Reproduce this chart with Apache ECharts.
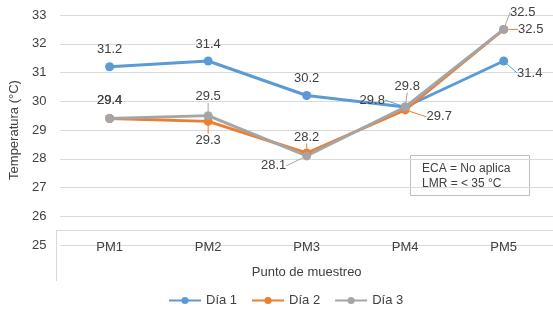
<!DOCTYPE html>
<html>
<head>
<meta charset="utf-8">
<script src="https://cdn.jsdelivr.net/npm/echarts@6/dist/echarts.min.js"></script>
<style>
  html, body { margin: 0; padding: 0; background: #fff; }
  #chart { width: 553px; height: 313px; }
</style>
</head>
<body>
<div id="chart"></div>
<script>
// datos
const puntos = ["PM1", "PM2", "PM3", "PM4", "PM5"];
const dia1 = [31.2, 31.4, 30.2, 29.8, 31.4];
const dia2 = [29.4, 29.3, 28.2, 29.7, 32.5];
const dia3 = [29.4, 29.5, 28.1, 29.8, 32.5];
const nombres = ["Día 1", "Día 2", "Día 3"];
const colores = ["#5b9bd5", "#ed7d31", "#a5a5a5"];

// desplazamiento de etiquetas (dx, dy) respecto al punto
const offsets = [
  [[0, -17], [0, -17], [0, -17], [-33, -7], [26, 12]],
  [[0, -18], [0, 19], [0, -16], [34, 7], [27, 0]],
  [[0, -18], [0, -19], [-33, 10], [2, -21], [19, -17]],
];
const guia = [
  [false, false, false, true, true],
  [false, true, true, true, true],
  [false, true, true, true, true],
];

const txt = "#404040";
const fuente = "'Liberation Sans', Arial, sans-serif";

function buildData(values, s) {
  return values.map((v, i) => ({
    value: v,
    labelLine: {
      show: guia[s][i],
      lineStyle: { color: colores[s], width: 1 },
    },
  }));
}

const series = [dia1, dia2, dia3].map((values, s) => ({
  name: nombres[s],
  type: "line",
  data: buildData(values, s),
  symbol: "circle",
  symbolSize: 9,
  lineStyle: { width: 3, color: colores[s] },
  itemStyle: { color: colores[s] },
  label: {
    show: true,
    position: "inside",
    color: txt,
    fontSize: 13,
    fontFamily: fuente,
  },
  labelLayout: function (p) {
    const o = offsets[s][p.dataIndex];
    return { dx: o[0], dy: o[1] };
  },
  emphasis: { disabled: true },
  animation: false,
}));

const myChart = echarts.init(document.getElementById("chart"));
myChart.setOption({
  textStyle: { fontFamily: fuente },
  grid: { left: 56, top: 15, width: 500, bottom: 68 },
  legend: {
    data: nombres,
    bottom: 1,
    left: 163,
    itemWidth: 32,
    itemHeight: 9,
    itemGap: 14,
    textStyle: { color: txt, fontSize: 13, fontFamily: fuente },
  },
  xAxis: {
    type: "category",
    data: puntos,
    name: "Punto de muestreo",
    nameLocation: "middle",
    nameGap: 21,
    nameTextStyle: { color: txt, fontSize: 13 },
    axisLine: { show: false },
    axisTick: { show: false },
    axisLabel: { margin: -4, color: txt, fontSize: 13 },
  },
  yAxis: {
    type: "value",
    min: 25,
    max: 33,
    interval: 1,
    name: "Temperatura (°C)",
    nameLocation: "middle",
    nameRotate: 90,
    nameGap: 32,
    nameTextStyle: { color: txt, fontSize: 13 },
    axisLabel: { margin: 14, color: txt, fontSize: 13 },
    splitLine: { lineStyle: { color: "#d9d9d9", width: 1 } },
  },
  graphic: [
    {
      type: "line",
      shape: { x1: 56, y1: 230.5, x2: 553, y2: 230.5 },
      style: { stroke: "#d9d9d9", lineWidth: 1 },
    },
    {
      type: "line",
      shape: { x1: 56.5, y1: 230, x2: 56.5, y2: 281 },
      style: { stroke: "#d9d9d9", lineWidth: 1 },
    },
    {
      type: "group",
      left: 410,
      top: 155,
      children: [
        {
          type: "rect",
          shape: { x: 0.5, y: 0.5, width: 119, height: 40 },
          style: { fill: "#fff", stroke: "#bfbfbf", lineWidth: 1 },
        },
        {
          type: "text",
          left: 12,
          top: 6,
          style: {
            text: "ECA = No aplica\nLMR = < 35 °C",
            fill: txt,
            font: "12px " + fuente,
            lineHeight: 15,
          },
        },
      ],
    },
  ],
  series: series,
});
</script>
</body>
</html>
